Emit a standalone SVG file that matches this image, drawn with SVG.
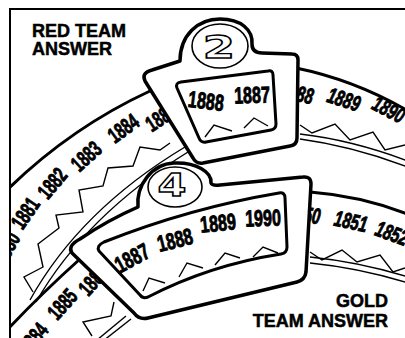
<svg xmlns="http://www.w3.org/2000/svg" width="405" height="338" viewBox="0 0 405 338">
<defs>
<clipPath id="frameclip"><rect x="10" y="9" width="395" height="329"/></clipPath>
<style>
.thick{fill:none;stroke:#000;stroke-width:3;stroke-linecap:round;stroke-linejoin:round}
.thin{fill:none;stroke:#000;stroke-width:1.4;stroke-linejoin:miter}
.frame{fill:#fff;stroke:#000;stroke-width:3.5;stroke-linejoin:round}
.win{fill:none;stroke:#000;stroke-width:3;stroke-linejoin:round}
.ring{fill:#fff;stroke:#000;stroke-width:1.6}
.yr{font-family:"Liberation Sans",Arial,sans-serif;font-weight:bold;font-size:22px;fill:#000;stroke:#000;stroke-width:0.9;text-anchor:middle}
.wy{font-size:23px}
.it{font-style:italic}
.num{font-family:"DejaVu Sans","Liberation Sans",sans-serif;font-weight:bold;font-size:32px;fill:#fff;stroke:#000;stroke-width:1.3;text-anchor:middle}
.lbl{font-family:"Liberation Sans",Arial,sans-serif;font-weight:bold;font-size:18px;fill:#000;stroke:#000;stroke-width:0.5}
</style>
</defs>
<rect width="405" height="338" fill="#fff"/>
<path id="border" d="M10,338 V9 H405" fill="none" stroke="#000" stroke-width="2"/>

<g clip-path="url(#frameclip)">
<g id="red-dial">
<path class="thick" d="M6,191 Q70,128 150,91"/>
<path class="thick" d="M296,68 Q355,80 410,112"/>
<text class="yr" transform="translate(6,248) rotate(-60) scale(0.66,1)" y="8">1880</text>
<text class="yr" transform="translate(25,213) rotate(-56) scale(0.66,1)" y="8">1881</text>
<text class="yr" transform="translate(52,183) rotate(-50) scale(0.66,1)" y="8">1882</text>
<text class="yr" transform="translate(86,156) rotate(-42) scale(0.66,1)" y="8">1883</text>
<text class="yr" transform="translate(123,128) rotate(-36) scale(0.66,1)" y="8">1884</text>
<text class="yr" transform="translate(161,117) rotate(-33) scale(0.66,1)" y="8">1885</text>
<text class="yr it" transform="translate(297,93) rotate(12) scale(0.68,1)" y="8">1888</text>
<text class="yr it" transform="translate(344,99) rotate(18) scale(0.68,1)" y="8">1889</text>
<text class="yr it" transform="translate(389,109) rotate(27) scale(0.68,1)" y="8">1890</text>
<polyline class="thin" points="170,143 160,150 140,147 133,166 108,168 103,186 79,190 83,212 56,215 59,228 38,244 43,267 24,277 33,292"/>
<path class="thin" d="M30,300 Q80,210 185,147"/>
<path class="thin" d="M36,302 Q86,215 188,152"/>
<polyline class="thin" points="300,125 312,133 335,124 350,140 373,132 385,150 405,145"/>
<path class="thin" d="M300,134 Q352,140 408,161"/>
<path class="thin" d="M300,139 Q352,146 408,167"/>
</g>

<g id="red-window">
<path class="frame" d="M152,70 L180,61 C180,35 198,19 220,19 C241,19 253,30 252,44 Q252,53 262,53 L292,54 Q298,54 298,60 L297,138 Q297,145 290,146 L203,163 Q196,164 193,158 L145,81 Q141,73 152,70 Z"/>
<ellipse class="ring" cx="220" cy="46" rx="28" ry="22"/>
<text class="num" transform="translate(219,58) scale(1.45,1)">2</text>
<path class="win" d="M181,82 L268,71 Q273,70 273,75 L276,124 Q276,129 271,130 L206,142 Q201,143 199,138 L177,88 Q175,83 181,82 Z"/>
<text class="yr wy" transform="translate(206,101) rotate(7) scale(0.7,1)" y="8">1888</text>
<text class="yr wy" transform="translate(252,95) rotate(-2) scale(0.7,1)" y="8">1887</text>
<polyline class="thin" points="205,137 214,125 232,131"/>
<polyline class="thin" points="244,128 254,118 268,126"/>
</g>

<g id="gold-dial">
<path class="thick" d="M6,331 Q42,293 80,259"/>
<path class="thick" d="M310,192 Q362,196 410,215"/>
<text class="yr" transform="translate(33,338) rotate(-50) scale(0.66,1)" y="8">1884</text>
<text class="yr" transform="translate(62,304) rotate(-48) scale(0.66,1)" y="8">1885</text>
<text class="yr" transform="translate(93,280) rotate(-48) scale(0.66,1)" y="8">1886</text>
<text class="yr it" transform="translate(304,214) rotate(8) scale(0.68,1)" y="8">1850</text>
<text class="yr it" transform="translate(351,221) rotate(12) scale(0.68,1)" y="8">1851</text>
<text class="yr it" transform="translate(392,233) rotate(20) scale(0.68,1)" y="8">1852</text>
<polyline class="thin" points="92,336 83,322 111,316 114,302"/>
<path class="thin" d="M97,340 L126,316"/>
<path class="thin" d="M103,341 L131,319"/>
<polyline class="thin" points="310,252 322,260 342,250 357,262 380,255 393,272 405,268"/>
<path class="thin" d="M310,257 Q360,262 408,277"/>
<path class="thin" d="M310,263 Q360,268 408,283"/>
</g>

<g id="gold-window">
<path class="frame" d="M80,239 Q108,220 138,207 C136,185 152,164 174,163 C196,162 212,172 211,183 Q212,186 220,185 L303,177 Q311,176 311,184 L306,272 Q305,280 297,282 L148,318 Q139,320 134,313 L72,253 Q67,246 80,239 Z"/>
<ellipse class="ring" cx="175" cy="187" rx="27" ry="20"/>
<text class="num" transform="translate(172,196) scale(1.3,1)">4</text>
<path class="win" d="M104,242 Q190,208 279,193 Q285,192 285,198 L287,247 Q287,253 281,254 Q210,265 148,297 Q143,299 140,295 L99,251 Q96,246 104,242 Z"/>
<text class="yr wy" transform="translate(132,258) rotate(-28) scale(0.7,1)" y="8">1887</text>
<text class="yr wy" transform="translate(175,240) rotate(-14) scale(0.7,1)" y="8">1888</text>
<text class="yr wy" transform="translate(218,223) rotate(-6) scale(0.7,1)" y="8">1889</text>
<text class="yr wy" transform="translate(263,218) rotate(-2) scale(0.7,1)" y="8">1990</text>
<polyline class="thin" points="143,291 149,278 165,283"/>
<polyline class="thin" points="179,277 187,263 203,268"/>
<polyline class="thin" points="215,265 225,253 240,258"/>
<polyline class="thin" points="253,257 263,247 278,253"/>
</g>
</g>

<g id="labels">
<text class="lbl" x="32" y="37">RED TEAM</text>
<text class="lbl" x="32" y="55">ANSWER</text>
<text class="lbl" x="388" y="307" text-anchor="end">GOLD</text>
<text class="lbl" x="388" y="327" text-anchor="end">TEAM ANSWER</text>
</g>
</svg>
